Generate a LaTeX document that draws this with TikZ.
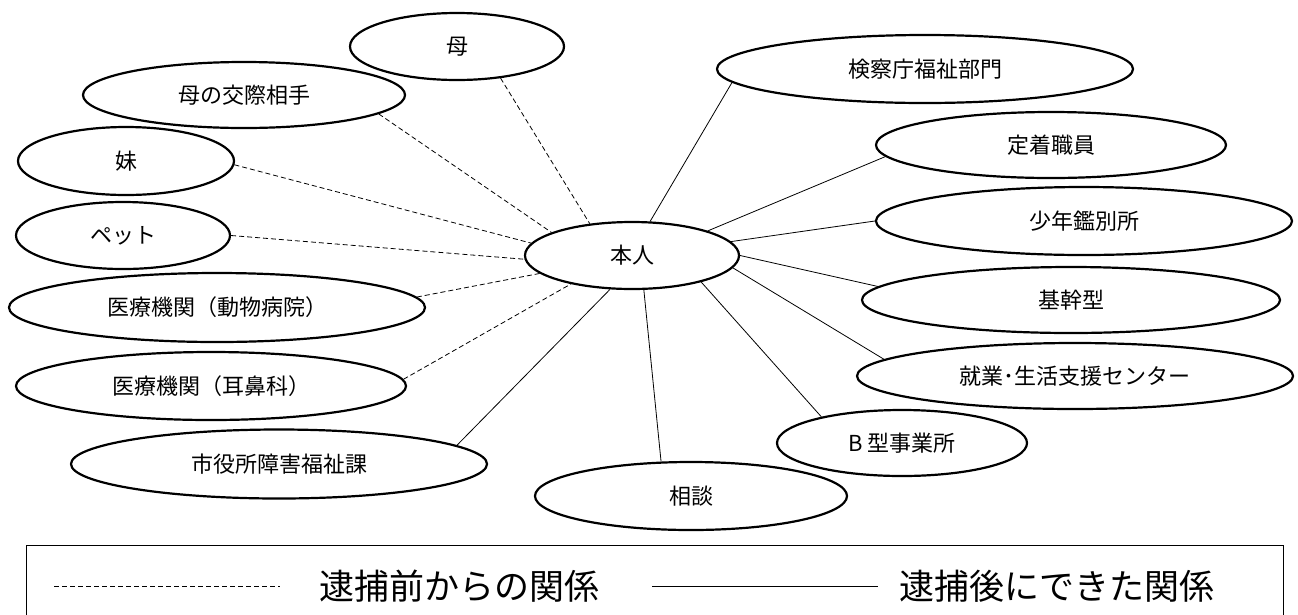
\documentclass[tikz,border=0pt]{standalone}
\usepackage{fontspec}
\newfontfamily\jp{Noto Sans CJK JP}
\usetikzlibrary{shapes.geometric}
\tikzset{
  ell/.style={draw, ellipse, line width=2.2pt, inner sep=0pt, font=\jp\fontsize{22}{24}\selectfont},
  pre/.style={line width=0.8pt, dash pattern=on 5pt off 3pt},
  post/.style={line width=0.8pt},
}
\begin{document}
\begin{tikzpicture}[x=1pt, y=-1pt]
\useasboundingbox (0,0) rectangle (1298,614);
% centre
\node[ell, minimum width=214pt, minimum height=67pt] (hon) at (632,255.5) {本人};
% left (before arrest)
\node[ell, minimum width=214pt, minimum height=67pt] (haha) at (457,46.5) {母};
\node[ell, minimum width=322pt, minimum height=66pt] (koi) at (244,95) {母の交際相手};
\node[ell, minimum width=216pt, minimum height=68pt] (imo) at (126,161) {妹};
\node[ell, minimum width=214pt, minimum height=67pt] (pet) at (123,235.5) {ペット};
\node[ell, minimum width=416pt, minimum height=69pt] (dob) at (217,307.5) {医療機関（動物病院）};
\node[ell, minimum width=390pt, minimum height=68pt] (jib) at (211,386) {医療機関（耳鼻科）};
\node[ell, minimum width=416pt, minimum height=69pt] (shi) at (279,464) {市役所障害福祉課};
% right (after arrest)
\node[ell, minimum width=416pt, minimum height=68pt] (ken) at (925,69) {検察庁福祉部門};
\node[ell, minimum width=350pt, minimum height=66pt] (tei) at (1051,145) {定着職員};
\node[ell, minimum width=416pt, minimum height=68pt] (sho) at (1084,221) {少年鑑別所};
\node[ell, minimum width=418pt, minimum height=66pt] (kik) at (1071,300) {基幹型};
\node[ell, minimum width=436pt, minimum height=66pt] (shu) at (1075,376) {就業･生活支援センター};
\node[ell, minimum width=250pt, minimum height=66pt] (bgata) at (902,443) {B 型事業所};
\node[ell, minimum width=312pt, minimum height=68pt] (sod) at (691,496) {相談};
% dashed connectors
\draw[pre] (haha.-36) -- (hon.143);
\draw[pre] (koi.-8) -- (hon.164);
\draw[pre] (imo.-2) -- (hon.173);
\draw[pre] (pet.0) -- (hon.182);
\draw[pre] (dob.3.6) -- (hon.191);
\draw[pre] (jib.2.7) -- (hon.205);
% solid connectors
\draw[post] (shi.6.5) -- (hon.237);
\draw[post] (ken.184) -- (hon.62);
\draw[post] (tei.184.5) -- (hon.18);
\draw[post] (sho.180) -- (hon.8);
\draw[post] (kik.176.3) -- (hon.0);
\draw[post] (shu.175.5) -- (hon.353);
\draw[post] (bgata.162) -- (hon.339);
\draw[post] (sod.131) -- (hon.289);
% legend
\node[draw, line width=1pt, minimum width=1257pt, minimum height=80pt, inner sep=0pt, anchor=north west] (leg) at (26,545) {};
\coordinate (d1) at (54,586);
\coordinate (d2) at (280,586);
\coordinate (s1) at (652,586);
\coordinate (s2) at (878,586);
\draw[pre] (d1) -- (d2);
\draw[post] (s1) -- (s2);
\node[font=\jp\fontsize{35}{38}\selectfont, inner sep=0pt] (lt1) at (459,586) {逮捕前からの関係};
\node[font=\jp\fontsize{35}{38}\selectfont, inner sep=0pt] (lt2) at (1057,586) {逮捕後にできた関係};
\end{tikzpicture}
\end{document}
